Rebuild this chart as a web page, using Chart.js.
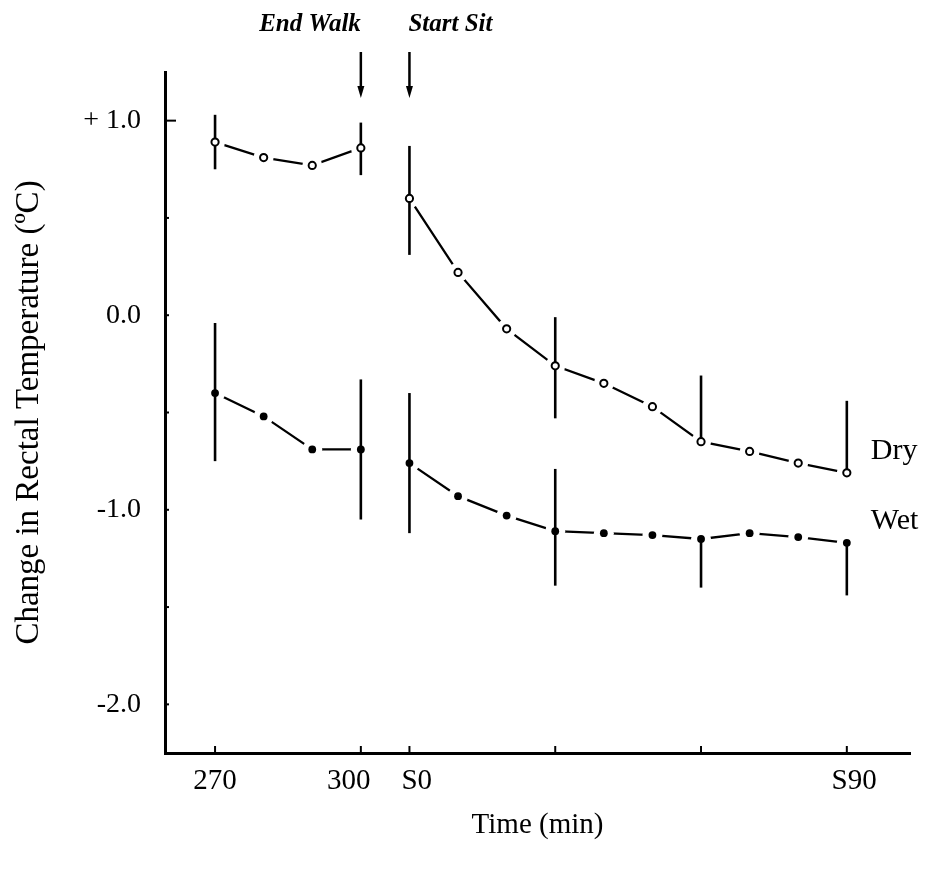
<!DOCTYPE html>
<html><head><meta charset="utf-8">
<script src="https://cdn.jsdelivr.net/npm/chart.js@4.4.1/dist/chart.umd.min.js"></script>
<style>html,body{margin:0;padding:0;background:#fff;} #wrap{width:936px;height:872px;position:relative;}</style>
</head><body><div id="wrap"><canvas id="c" width="936" height="872"></canvas></div>
<script>
// ---- data ----
const timeLabels = ['270','280','290','300','S0','S10','S20','S30','S40','S50','S60','S70','S80','S90'];
const dryValues  = [0.89, 0.81, 0.77, 0.86, 0.60, 0.22, -0.07, -0.26, -0.35, -0.47, -0.65, -0.70, -0.76, -0.81];
const wetValues  = [-0.40, -0.52, -0.69, -0.69, -0.76, -0.93, -1.03, -1.11, -1.12, -1.13, -1.15, -1.12, -1.14, -1.17];
const dryErrUp   = [0.14, null, null, 0.13, 0.27, null, null, 0.25, null, null, 0.34, null, null, 0.37];
const dryErrDown = [0.14, null, null, 0.14, 0.29, null, null, 0.27, null, null, null, null, null, null];
const wetErrUp   = [0.36, null, null, 0.36, 0.36, null, null, 0.32, null, null, null, null, null, null];
const wetErrDown = [0.35, null, null, 0.36, 0.36, null, null, 0.28, null, null, 0.25, null, null, 0.27];
const xTickLabels   = ['270', '300', 'S0', 'S90'];
const xTickLabelPos = [0, 2.75, 4.15, 13.15];   // where the printed labels sit
const xTickMarkIdx  = [0, 3, 4, 7, 10, 13];
const yTickValues = [-2, -1, 0, 1];
const yTickLabels = ['-2.0', '-1.0', '0.0', '+ 1.0'];
const yMinorTicks = [-2, -1.5, -1, -0.5, 0, 0.5, 1];
const breakAfterIdx = 3;           // no line joins 300 and S0
const eventLabels = ['End Walk', 'Start Sit'];
const eventIdx = [3, 4];
const seriesNames = ['Dry', 'Wet'];

const FONT = '"Liberation Serif", "DejaVu Serif", serif';
const pts = arr => arr.map((y, i) => ({x: i, y}));
const seg = {borderColor: ctx => ctx.p0DataIndex === breakAfterIdx ? 'rgba(0,0,0,0)' : '#000'};

let errDrawn = false;
const overlay = {
  id: 'overlay',
  beforeDatasetsDraw() { errDrawn = false; },
  beforeDatasetDraw(chart, args) {
    if (errDrawn || args.meta.order !== 0) return;
    errDrawn = true;
    const {ctx, scales: {x, y}} = chart;
    ctx.save();
    ctx.strokeStyle = '#000'; ctx.lineWidth = 2.6; ctx.lineCap = 'butt';
    [[dryValues, dryErrUp, dryErrDown], [wetValues, wetErrUp, wetErrDown]].forEach(([v, up, dn]) => {
      v.forEach((val, i) => {
        if (up[i] == null && dn[i] == null) return;
        const px = x.getPixelForValue(i);
        const top = up[i] != null ? val + up[i] : val;
        const bot = dn[i] != null ? val - dn[i] : val;
        ctx.beginPath();
        ctx.moveTo(px, y.getPixelForValue(top));
        ctx.lineTo(px, y.getPixelForValue(bot));
        ctx.stroke();
      });
    });
    ctx.restore();
  },
  afterDraw(chart) {
    const {ctx, chartArea: ca, scales: {x, y}} = chart;
    ctx.save();
    ctx.strokeStyle = '#000'; ctx.fillStyle = '#000'; ctx.lineWidth = 2;
    // inward x tick marks
    xTickMarkIdx.forEach(i => {
      const px = x.getPixelForValue(i);
      ctx.beginPath(); ctx.moveTo(px, ca.bottom); ctx.lineTo(px, ca.bottom - 7); ctx.stroke();
    });
    // inward y tick marks
    yMinorTicks.forEach(v => {
      const py = y.getPixelForValue(v);
      const len = v === 1 ? 11 : 4;
      ctx.beginPath(); ctx.moveTo(ca.left, py); ctx.lineTo(ca.left + len, py); ctx.stroke();
    });
    // event arrows + labels
    ctx.font = 'italic bold 25px ' + FONT;
    ctx.textBaseline = 'middle';
    eventIdx.forEach((i, k) => {
      const px = x.getPixelForValue(i);
      ctx.lineWidth = 2.5;
      ctx.beginPath(); ctx.moveTo(px, 52); ctx.lineTo(px, 90); ctx.stroke();
      ctx.beginPath(); ctx.moveTo(px - 3.5, 86); ctx.lineTo(px + 3.5, 86); ctx.lineTo(px, 98); ctx.closePath(); ctx.fill();
      ctx.textAlign = k === 0 ? 'right' : 'left';
      ctx.fillText(eventLabels[k], k === 0 ? px : px - 1, 25);
    });
    // series labels
    ctx.font = '30px ' + FONT;
    ctx.textAlign = 'left';
    [dryValues, wetValues].forEach((v, k) => {
      const last = v.length - 1;
      ctx.fillText(seriesNames[k], x.getPixelForValue(last) + 24, y.getPixelForValue(v[last]) - 22);
    });
    ctx.restore();
  }
};

new Chart(document.getElementById('c'), {
  type: 'line',
  data: {
    datasets: [
      {label: 'Dry', data: pts(dryValues), showLine: false, pointRadius: 3.6, pointBorderWidth: 2,
       pointBackgroundColor: '#fff', pointBorderColor: '#000', order: 0},
      {label: 'Wet', data: pts(wetValues), showLine: false, pointRadius: 3.9, pointBorderWidth: 0,
       pointBackgroundColor: '#000', pointBorderColor: '#000', order: 0},
      {label: 'Dry gap', data: pts(dryValues), showLine: false, pointRadius: 10, pointBorderWidth: 0,
       pointBackgroundColor: '#fff', order: 1},
      {label: 'Wet gap', data: pts(wetValues), showLine: false, pointRadius: 10, pointBorderWidth: 0,
       pointBackgroundColor: '#fff', order: 1},
      {label: 'Dry line', data: pts(dryValues), borderColor: '#000', borderWidth: 2.3, pointRadius: 0,
       tension: 0, segment: seg, order: 2},
      {label: 'Wet line', data: pts(wetValues), borderColor: '#000', borderWidth: 2.3, pointRadius: 0,
       tension: 0, segment: seg, order: 2}
    ]
  },
  options: {
    responsive: false, animation: false,
    layout: {padding: {top: 72, right: 26, left: 0, bottom: 0}},
    plugins: {legend: {display: false}, tooltip: {enabled: false}},
    scales: {
      x: {
        type: 'linear', min: -1.03, max: 14.3,
        afterBuildTicks: s => { s.ticks = xTickLabelPos.map(v => ({value: v})); },
        afterFit: s => { s.height = 119; },
        ticks: {autoSkip: false, maxRotation: 0, padding: 11, color: '#000',
                font: {family: FONT, size: 29},
                callback: v => xTickLabels[xTickLabelPos.indexOf(v)]},
        grid: {drawOnChartArea: false, drawTicks: false},
        border: {display: true, color: '#000', width: 3},
        title: {display: true, text: 'Time (min)', color: '#000', font: {family: FONT, size: 29},
                padding: {top: 0, bottom: 29}}
      },
      y: {
        min: -2.25, max: 1.25,
        afterBuildTicks: s => { s.ticks = yTickValues.map(v => ({value: v})); },
        afterFit: s => { s.width = 165; },
        ticks: {padding: 24, color: '#000', font: {family: FONT, size: 28},
                callback: v => yTickLabels[yTickValues.indexOf(v)]},
        grid: {drawOnChartArea: false, drawTicks: false},
        border: {display: true, color: '#000', width: 3},
        title: {display: true, text: 'Change in Rectal Temperature (ºC)', color: '#000',
                font: {family: FONT, size: 33}, padding: {top: 10, bottom: 0}}
      }
    }
  },
  plugins: [overlay]
});
</script></body></html>
